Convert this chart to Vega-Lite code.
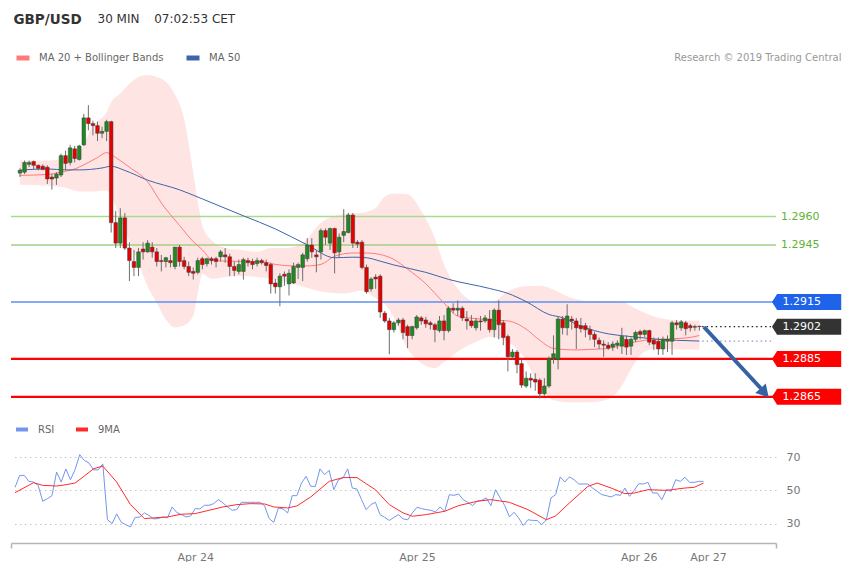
{
"$schema": "https://vega.github.io/schema/vega-lite/v6.json",
"background": "white",
"padding": {"left": 9, "top": 12, "right": 0, "bottom": 0},
"config": {"font": "DejaVu Sans", "view": {"stroke": null}},
"bounds": "flush",
"spacing": 33,
"resolve": {"scale": {"color": "independent"}},
"datasets": {
"candles": [
{"i":0,"o":1.29829,"h":1.29854,"l":1.29808,"c":1.29844},
{"i":1,"o":1.29834,"h":1.29895,"l":1.29824,"c":1.29885},
{"i":2,"o":1.29875,"h":1.29895,"l":1.29860,"c":1.29885},
{"i":3,"o":1.29890,"h":1.29895,"l":1.29849,"c":1.29870},
{"i":4,"o":1.29870,"h":1.29875,"l":1.29844,"c":1.29854},
{"i":5,"o":1.29865,"h":1.29875,"l":1.29844,"c":1.29849},
{"i":6,"o":1.29860,"h":1.29870,"l":1.29772,"c":1.29798},
{"i":7,"o":1.29808,"h":1.29824,"l":1.29742,"c":1.29798},
{"i":8,"o":1.29803,"h":1.29834,"l":1.29767,"c":1.29824},
{"i":9,"o":1.29819,"h":1.29931,"l":1.29808,"c":1.29921},
{"i":10,"o":1.29921,"h":1.29947,"l":1.29844,"c":1.29880},
{"i":11,"o":1.29885,"h":1.29978,"l":1.29870,"c":1.29962},
{"i":12,"o":1.29957,"h":1.29972,"l":1.29885,"c":1.29906},
{"i":13,"o":1.29901,"h":1.29978,"l":1.29895,"c":1.29972},
{"i":14,"o":1.29978,"h":1.30141,"l":1.29972,"c":1.30120},
{"i":15,"o":1.30120,"h":1.30187,"l":1.30054,"c":1.30090},
{"i":16,"o":1.30090,"h":1.30105,"l":1.30028,"c":1.30079},
{"i":17,"o":1.30079,"h":1.30100,"l":1.29998,"c":1.30039},
{"i":18,"o":1.30039,"h":1.30074,"l":1.30013,"c":1.30049},
{"i":19,"o":1.30049,"h":1.30110,"l":1.29998,"c":1.30100},
{"i":20,"o":1.30100,"h":1.30105,"l":1.29516,"c":1.29568},
{"i":21,"o":1.29568,"h":1.29630,"l":1.29434,"c":1.29460},
{"i":22,"o":1.29460,"h":1.29644,"l":1.29434,"c":1.29593},
{"i":23,"o":1.29593,"h":1.29619,"l":1.29424,"c":1.29434},
{"i":24,"o":1.29434,"h":1.29465,"l":1.29260,"c":1.29368},
{"i":25,"o":1.29363,"h":1.29424,"l":1.29286,"c":1.29332},
{"i":26,"o":1.29332,"h":1.29434,"l":1.29286,"c":1.29414},
{"i":27,"o":1.29429,"h":1.29465,"l":1.29373,"c":1.29414},
{"i":28,"o":1.29414,"h":1.29476,"l":1.29409,"c":1.29460},
{"i":29,"o":1.29439,"h":1.29465,"l":1.29383,"c":1.29414},
{"i":30,"o":1.29414,"h":1.29434,"l":1.29337,"c":1.29363},
{"i":31,"o":1.29368,"h":1.29398,"l":1.29311,"c":1.29363},
{"i":32,"o":1.29363,"h":1.29388,"l":1.29332,"c":1.29383},
{"i":33,"o":1.29368,"h":1.29398,"l":1.29332,"c":1.29357},
{"i":34,"o":1.29337,"h":1.29439,"l":1.29322,"c":1.29439},
{"i":35,"o":1.29439,"h":1.29450,"l":1.29337,"c":1.29363},
{"i":36,"o":1.29368,"h":1.29388,"l":1.29322,"c":1.29337},
{"i":37,"o":1.29337,"h":1.29363,"l":1.29286,"c":1.29306},
{"i":38,"o":1.29311,"h":1.29332,"l":1.29268,"c":1.29301},
{"i":39,"o":1.29306,"h":1.29383,"l":1.29296,"c":1.29368},
{"i":40,"o":1.29378,"h":1.29388,"l":1.29322,"c":1.29347},
{"i":41,"o":1.29352,"h":1.29383,"l":1.29337,"c":1.29378},
{"i":42,"o":1.29378,"h":1.29388,"l":1.29347,"c":1.29368},
{"i":43,"o":1.29378,"h":1.29388,"l":1.29332,"c":1.29363},
{"i":44,"o":1.29388,"h":1.29424,"l":1.29363,"c":1.29414},
{"i":45,"o":1.29398,"h":1.29434,"l":1.29357,"c":1.29388},
{"i":46,"o":1.29388,"h":1.29404,"l":1.29286,"c":1.29337},
{"i":47,"o":1.29337,"h":1.29363,"l":1.29286,"c":1.29316},
{"i":48,"o":1.29311,"h":1.29373,"l":1.29296,"c":1.29347},
{"i":49,"o":1.29311,"h":1.29383,"l":1.29268,"c":1.29373},
{"i":50,"o":1.29368,"h":1.29383,"l":1.29337,"c":1.29357},
{"i":51,"o":1.29363,"h":1.29378,"l":1.29322,"c":1.29347},
{"i":52,"o":1.29352,"h":1.29383,"l":1.29337,"c":1.29368},
{"i":53,"o":1.29368,"h":1.29378,"l":1.29347,"c":1.29357},
{"i":54,"o":1.29357,"h":1.29373,"l":1.29311,"c":1.29342},
{"i":55,"o":1.29347,"h":1.29357,"l":1.29194,"c":1.29245},
{"i":56,"o":1.29250,"h":1.29271,"l":1.29194,"c":1.29230},
{"i":57,"o":1.29230,"h":1.29301,"l":1.29127,"c":1.29286},
{"i":58,"o":1.29296,"h":1.29311,"l":1.29235,"c":1.29286},
{"i":59,"o":1.29245,"h":1.29322,"l":1.29184,"c":1.29301},
{"i":60,"o":1.29250,"h":1.29357,"l":1.29245,"c":1.29337},
{"i":61,"o":1.29332,"h":1.29357,"l":1.29271,"c":1.29347},
{"i":62,"o":1.29332,"h":1.29409,"l":1.29260,"c":1.29398},
{"i":63,"o":1.29378,"h":1.29486,"l":1.29363,"c":1.29450},
{"i":64,"o":1.29450,"h":1.29486,"l":1.29383,"c":1.29414},
{"i":65,"o":1.29398,"h":1.29424,"l":1.29306,"c":1.29388},
{"i":66,"o":1.29414,"h":1.29537,"l":1.29373,"c":1.29526},
{"i":67,"o":1.29526,"h":1.29537,"l":1.29450,"c":1.29491},
{"i":68,"o":1.29460,"h":1.29542,"l":1.29424,"c":1.29537},
{"i":69,"o":1.29537,"h":1.29542,"l":1.29301,"c":1.29409},
{"i":70,"o":1.29414,"h":1.29511,"l":1.29383,"c":1.29491},
{"i":71,"o":1.29501,"h":1.29639,"l":1.29465,"c":1.29521},
{"i":72,"o":1.29516,"h":1.29619,"l":1.29511,"c":1.29608},
{"i":73,"o":1.29608,"h":1.29619,"l":1.29434,"c":1.29460},
{"i":74,"o":1.29465,"h":1.29476,"l":1.29434,"c":1.29455},
{"i":75,"o":1.29465,"h":1.29476,"l":1.29322,"c":1.29332},
{"i":76,"o":1.29332,"h":1.29347,"l":1.29194,"c":1.29204},
{"i":77,"o":1.29219,"h":1.29281,"l":1.29204,"c":1.29271},
{"i":78,"o":1.29281,"h":1.29296,"l":1.29219,"c":1.29271},
{"i":79,"o":1.29286,"h":1.29296,"l":1.29066,"c":1.29097},
{"i":80,"o":1.29091,"h":1.29102,"l":1.29040,"c":1.29050},
{"i":81,"o":1.29050,"h":1.29066,"l":1.28874,"c":1.29004},
{"i":82,"o":1.29004,"h":1.29050,"l":1.28989,"c":1.29040},
{"i":83,"o":1.29040,"h":1.29066,"l":1.29025,"c":1.29055},
{"i":84,"o":1.29055,"h":1.29066,"l":1.28953,"c":1.28989},
{"i":85,"o":1.29020,"h":1.29030,"l":1.28907,"c":1.28973},
{"i":86,"o":1.28973,"h":1.29025,"l":1.28953,"c":1.29020},
{"i":87,"o":1.29014,"h":1.29081,"l":1.29004,"c":1.29071},
{"i":88,"o":1.29066,"h":1.29076,"l":1.29030,"c":1.29050},
{"i":89,"o":1.29055,"h":1.29071,"l":1.29014,"c":1.29035},
{"i":90,"o":1.29040,"h":1.29050,"l":1.29004,"c":1.29030},
{"i":91,"o":1.29030,"h":1.29040,"l":1.28938,"c":1.29004},
{"i":92,"o":1.28999,"h":1.29076,"l":1.28989,"c":1.29050},
{"i":93,"o":1.29050,"h":1.29081,"l":1.28948,"c":1.28999},
{"i":94,"o":1.28999,"h":1.29127,"l":1.28989,"c":1.29117},
{"i":95,"o":1.29117,"h":1.29143,"l":1.29091,"c":1.29107},
{"i":96,"o":1.29107,"h":1.29158,"l":1.29076,"c":1.29117},
{"i":97,"o":1.29117,"h":1.29127,"l":1.29050,"c":1.29066},
{"i":98,"o":1.29060,"h":1.29102,"l":1.29004,"c":1.29050},
{"i":99,"o":1.29050,"h":1.29081,"l":1.29014,"c":1.29025},
{"i":100,"o":1.29014,"h":1.29066,"l":1.28999,"c":1.29050},
{"i":101,"o":1.29050,"h":1.29076,"l":1.28999,"c":1.29045},
{"i":102,"o":1.29050,"h":1.29081,"l":1.29040,"c":1.29066},
{"i":103,"o":1.29060,"h":1.29107,"l":1.28989,"c":1.29004},
{"i":104,"o":1.29004,"h":1.29117,"l":1.28963,"c":1.29107},
{"i":105,"o":1.29107,"h":1.29158,"l":1.28953,"c":1.29030},
{"i":106,"o":1.29040,"h":1.29055,"l":1.28922,"c":1.28963},
{"i":107,"o":1.28968,"h":1.28979,"l":1.28784,"c":1.28861},
{"i":108,"o":1.28861,"h":1.28902,"l":1.28851,"c":1.28886},
{"i":109,"o":1.28886,"h":1.28897,"l":1.28774,"c":1.28820},
{"i":110,"o":1.28825,"h":1.28846,"l":1.28697,"c":1.28712},
{"i":111,"o":1.28707,"h":1.28784,"l":1.28697,"c":1.28748},
{"i":112,"o":1.28748,"h":1.28774,"l":1.28697,"c":1.28738},
{"i":113,"o":1.28743,"h":1.28774,"l":1.28682,"c":1.28728},
{"i":114,"o":1.28738,"h":1.28748,"l":1.28641,"c":1.28666},
{"i":115,"o":1.28666,"h":1.28748,"l":1.28656,"c":1.28707},
{"i":116,"o":1.28707,"h":1.28863,"l":1.28697,"c":1.28851},
{"i":117,"o":1.28851,"h":1.28974,"l":1.28825,"c":1.28877},
{"i":118,"o":1.28846,"h":1.29076,"l":1.28795,"c":1.29060},
{"i":119,"o":1.29060,"h":1.29076,"l":1.28979,"c":1.29014},
{"i":120,"o":1.29014,"h":1.29138,"l":1.28974,"c":1.29076},
{"i":121,"o":1.29060,"h":1.29076,"l":1.29004,"c":1.29050},
{"i":122,"o":1.29050,"h":1.29066,"l":1.28902,"c":1.29014},
{"i":123,"o":1.29025,"h":1.29066,"l":1.28989,"c":1.29009},
{"i":124,"o":1.29025,"h":1.29040,"l":1.28963,"c":1.29004},
{"i":125,"o":1.29004,"h":1.29025,"l":1.28948,"c":1.28979},
{"i":126,"o":1.28979,"h":1.28994,"l":1.28912,"c":1.28953},
{"i":127,"o":1.28948,"h":1.28963,"l":1.28902,"c":1.28928},
{"i":128,"o":1.28928,"h":1.28948,"l":1.28861,"c":1.28922},
{"i":129,"o":1.28922,"h":1.28938,"l":1.28897,"c":1.28907},
{"i":130,"o":1.28912,"h":1.28943,"l":1.28892,"c":1.28928},
{"i":131,"o":1.28922,"h":1.28948,"l":1.28902,"c":1.28933},
{"i":132,"o":1.28917,"h":1.29014,"l":1.28876,"c":1.28968},
{"i":133,"o":1.28953,"h":1.28974,"l":1.28871,"c":1.28912},
{"i":134,"o":1.28917,"h":1.28963,"l":1.28871,"c":1.28953},
{"i":135,"o":1.28953,"h":1.28999,"l":1.28938,"c":1.28989},
{"i":136,"o":1.28994,"h":1.29004,"l":1.28953,"c":1.28979},
{"i":137,"o":1.28979,"h":1.29004,"l":1.28963,"c":1.28999},
{"i":138,"o":1.28999,"h":1.29004,"l":1.28922,"c":1.28938},
{"i":139,"o":1.28948,"h":1.28963,"l":1.28897,"c":1.28928},
{"i":140,"o":1.28943,"h":1.28963,"l":1.28871,"c":1.28902},
{"i":141,"o":1.28902,"h":1.28968,"l":1.28871,"c":1.28953},
{"i":142,"o":1.28943,"h":1.28974,"l":1.28886,"c":1.28953},
{"i":143,"o":1.28943,"h":1.29050,"l":1.28871,"c":1.29040},
{"i":144,"o":1.29040,"h":1.29055,"l":1.29004,"c":1.29030},
{"i":145,"o":1.29014,"h":1.29055,"l":1.28999,"c":1.29045},
{"i":146,"o":1.29040,"h":1.29050,"l":1.28974,"c":1.29009},
{"i":147,"o":1.29025,"h":1.29035,"l":1.28994,"c":1.29014},
{"i":148,"o":1.29020,"h":1.29030,"l":1.28999,"c":1.29017},
{"i":149,"o":1.29022,"h":1.29025,"l":1.28999,"c":1.29020}
],
"bands": [
{"i":0,"upper":1.29896,"lower":1.29768},{"i":6,"upper":1.29896,"lower":1.29763},{"i":10,"upper":1.29911,"lower":1.29752},
{"i":13,"upper":1.29942,"lower":1.29732},{"i":16,"upper":1.30080,"lower":1.29732},{"i":19,"upper":1.30151,"lower":1.29737},
{"i":20,"upper":1.30203,"lower":1.29706},{"i":22,"upper":1.30249,"lower":1.29589},{"i":24,"upper":1.30300,"lower":1.29471},
{"i":26,"upper":1.30336,"lower":1.29353},{"i":28,"upper":1.30346,"lower":1.29231},{"i":30,"upper":1.30336,"lower":1.29144},
{"i":32,"upper":1.30310,"lower":1.29057},{"i":34,"upper":1.30243,"lower":1.29016},{"i":36,"upper":1.30116,"lower":1.29026},
{"i":38,"upper":1.29834,"lower":1.29077},{"i":39,"upper":1.29681,"lower":1.29195},{"i":40,"upper":1.29553,"lower":1.29297},
{"i":42,"upper":1.29476,"lower":1.29272},{"i":45,"upper":1.29435,"lower":1.29282},{"i":48,"upper":1.29425,"lower":1.29287},
{"i":52,"upper":1.29415,"lower":1.29282},{"i":55,"upper":1.29435,"lower":1.29272},{"i":58,"upper":1.29435,"lower":1.29256},
{"i":62,"upper":1.29461,"lower":1.29231},{"i":66,"upper":1.29568,"lower":1.29205},{"i":71,"upper":1.29614,"lower":1.29195},
{"i":75,"upper":1.29620,"lower":1.29210},{"i":78,"upper":1.29645,"lower":1.29169},{"i":80,"upper":1.29706,"lower":1.29139},
{"i":82,"upper":1.29722,"lower":1.29067},{"i":85,"upper":1.29717,"lower":1.28903},{"i":88,"upper":1.29630,"lower":1.28827},
{"i":91,"upper":1.29486,"lower":1.28801},{"i":93,"upper":1.29348,"lower":1.28832},{"i":96,"upper":1.29221,"lower":1.28888},
{"i":100,"upper":1.29149,"lower":1.28939},{"i":103,"upper":1.29144,"lower":1.28965},{"i":107,"upper":1.29205,"lower":1.28939},
{"i":110,"upper":1.29231,"lower":1.28873},{"i":114,"upper":1.29236,"lower":1.28709},{"i":117,"upper":1.29216,"lower":1.28632},
{"i":120,"upper":1.29180,"lower":1.28622},{"i":125,"upper":1.29154,"lower":1.28622},{"i":129,"upper":1.29154,"lower":1.28637},
{"i":132,"upper":1.29154,"lower":1.28709},{"i":134,"upper":1.29128,"lower":1.28796},{"i":137,"upper":1.29093,"lower":1.28888},
{"i":140,"upper":1.29067,"lower":1.28903},{"i":146,"upper":1.29052,"lower":1.28898},{"i":149,"upper":1.29052,"lower":1.28898}
],
"ma": [
{"i":0,"s":"MA 20 + Bollinger Bands","v":1.29817},{"i":6,"s":"MA 20 + Bollinger Bands","v":1.29822},{"i":9,"s":"MA 20 + Bollinger Bands","v":1.29834},
{"i":12,"s":"MA 20 + Bollinger Bands","v":1.29851},{"i":15,"s":"MA 20 + Bollinger Bands","v":1.29885},{"i":17,"s":"MA 20 + Bollinger Bands","v":1.29911},
{"i":19,"s":"MA 20 + Bollinger Bands","v":1.29937},{"i":21,"s":"MA 20 + Bollinger Bands","v":1.29911},{"i":24,"s":"MA 20 + Bollinger Bands","v":1.29860},
{"i":28,"s":"MA 20 + Bollinger Bands","v":1.29783},{"i":31,"s":"MA 20 + Bollinger Bands","v":1.29672},{"i":35,"s":"MA 20 + Bollinger Bands","v":1.29553},
{"i":38,"s":"MA 20 + Bollinger Bands","v":1.29468},{"i":40,"s":"MA 20 + Bollinger Bands","v":1.29425},{"i":42,"s":"MA 20 + Bollinger Bands","v":1.29374},
{"i":45,"s":"MA 20 + Bollinger Bands","v":1.29365},{"i":53,"s":"MA 20 + Bollinger Bands","v":1.29362},{"i":56,"s":"MA 20 + Bollinger Bands","v":1.29348},
{"i":60,"s":"MA 20 + Bollinger Bands","v":1.29340},{"i":63,"s":"MA 20 + Bollinger Bands","v":1.29340},{"i":66,"s":"MA 20 + Bollinger Bands","v":1.29348},
{"i":69,"s":"MA 20 + Bollinger Bands","v":1.29391},{"i":73,"s":"MA 20 + Bollinger Bands","v":1.29408},{"i":76,"s":"MA 20 + Bollinger Bands","v":1.29408},
{"i":79,"s":"MA 20 + Bollinger Bands","v":1.29400},{"i":82,"s":"MA 20 + Bollinger Bands","v":1.29374},{"i":85,"s":"MA 20 + Bollinger Bands","v":1.29323},
{"i":89,"s":"MA 20 + Bollinger Bands","v":1.29246},{"i":93,"s":"MA 20 + Bollinger Bands","v":1.29144},{"i":96,"s":"MA 20 + Bollinger Bands","v":1.29076},
{"i":100,"s":"MA 20 + Bollinger Bands","v":1.29062},{"i":103,"s":"MA 20 + Bollinger Bands","v":1.29055},{"i":107,"s":"MA 20 + Bollinger Bands","v":1.29050},
{"i":111,"s":"MA 20 + Bollinger Bands","v":1.29007},{"i":114,"s":"MA 20 + Bollinger Bands","v":1.28948},{"i":117,"s":"MA 20 + Bollinger Bands","v":1.28905},
{"i":122,"s":"MA 20 + Bollinger Bands","v":1.28897},{"i":125,"s":"MA 20 + Bollinger Bands","v":1.28900},{"i":129,"s":"MA 20 + Bollinger Bands","v":1.28905},
{"i":133,"s":"MA 20 + Bollinger Bands","v":1.28930},{"i":137,"s":"MA 20 + Bollinger Bands","v":1.28948},{"i":140,"s":"MA 20 + Bollinger Bands","v":1.28953},
{"i":146,"s":"MA 20 + Bollinger Bands","v":1.28960},{"i":149,"s":"MA 20 + Bollinger Bands","v":1.28973},
{"i":0,"s":"MA 50","v":1.29845},{"i":6,"s":"MA 50","v":1.29851},{"i":10,"s":"MA 50","v":1.29846},{"i":13,"s":"MA 50","v":1.29846},
{"i":18,"s":"MA 50","v":1.29856},{"i":20,"s":"MA 50","v":1.29865},{"i":23,"s":"MA 50","v":1.29843},{"i":28,"s":"MA 50","v":1.29792},
{"i":35,"s":"MA 50","v":1.29741},{"i":40,"s":"MA 50","v":1.29693},{"i":49,"s":"MA 50","v":1.29604},{"i":56,"s":"MA 50","v":1.29535},
{"i":63,"s":"MA 50","v":1.29451},{"i":69,"s":"MA 50","v":1.29383},{"i":73,"s":"MA 50","v":1.29386},{"i":76,"s":"MA 50","v":1.29383},
{"i":79,"s":"MA 50","v":1.29365},{"i":82,"s":"MA 50","v":1.29345},{"i":89,"s":"MA 50","v":1.29306},{"i":94,"s":"MA 50","v":1.29269},
{"i":103,"s":"MA 50","v":1.29221},{"i":107,"s":"MA 50","v":1.29195},{"i":111,"s":"MA 50","v":1.29152},{"i":116,"s":"MA 50","v":1.29084},
{"i":119,"s":"MA 50","v":1.29067},{"i":122,"s":"MA 50","v":1.29033},{"i":126,"s":"MA 50","v":1.28999},{"i":129,"s":"MA 50","v":1.28982},
{"i":133,"s":"MA 50","v":1.28970},{"i":137,"s":"MA 50","v":1.28960},{"i":140,"s":"MA 50","v":1.28953},{"i":144,"s":"MA 50","v":1.28948},
{"i":149,"s":"MA 50","v":1.28944}
],
"levels": [
{"price":1.2960,"kind":"R2"},{"price":1.2945,"kind":"R1"},{"price":1.2915,"kind":"P"},
{"price":1.2902,"kind":"last"},{"price":1.2885,"kind":"S1"},{"price":1.2865,"kind":"S2"}
],
"ext": [{"name":"last","price":1.2902},{"name":"ma50","price":1.28944}],
"arrow": [{"i0":150,"p0":1.29018,"i1":162.5,"p1":1.28694,"ih":163.0,"ph":1.28679}],
"rsi": [
{"i":0,"s":"RSI","v":51.8},{"i":1,"s":"RSI","v":59},{"i":2,"s":"RSI","v":59},{"i":3,"s":"RSI","v":55.4},{"i":4,"s":"RSI","v":55},
{"i":5,"s":"RSI","v":53},{"i":6,"s":"RSI","v":43.4},{"i":7,"s":"RSI","v":45},{"i":8,"s":"RSI","v":46.8},{"i":9,"s":"RSI","v":61},
{"i":10,"s":"RSI","v":55},{"i":11,"s":"RSI","v":62.9},{"i":12,"s":"RSI","v":56.4},{"i":13,"s":"RSI","v":62.5},{"i":14,"s":"RSI","v":71.5},
{"i":15,"s":"RSI","v":68},{"i":16,"s":"RSI","v":66.5},{"i":17,"s":"RSI","v":62.3},{"i":18,"s":"RSI","v":62.3},{"i":19,"s":"RSI","v":65.9},
{"i":20,"s":"RSI","v":32.4},{"i":21,"s":"RSI","v":30},{"i":22,"s":"RSI","v":35.8},{"i":23,"s":"RSI","v":30.7},{"i":24,"s":"RSI","v":29.3},
{"i":25,"s":"RSI","v":28},{"i":26,"s":"RSI","v":33.7},{"i":27,"s":"RSI","v":33.9},{"i":28,"s":"RSI","v":36.4},{"i":29,"s":"RSI","v":34.9},
{"i":30,"s":"RSI","v":32.8},{"i":31,"s":"RSI","v":33},{"i":32,"s":"RSI","v":34},{"i":33,"s":"RSI","v":33.4},{"i":34,"s":"RSI","v":40},
{"i":35,"s":"RSI","v":36.7},{"i":36,"s":"RSI","v":35.4},{"i":37,"s":"RSI","v":34},{"i":38,"s":"RSI","v":34.6},{"i":39,"s":"RSI","v":39},
{"i":40,"s":"RSI","v":38.8},{"i":41,"s":"RSI","v":41},{"i":42,"s":"RSI","v":41},{"i":43,"s":"RSI","v":42},{"i":44,"s":"RSI","v":44.4},
{"i":45,"s":"RSI","v":42.4},{"i":46,"s":"RSI","v":40},{"i":47,"s":"RSI","v":38},{"i":48,"s":"RSI","v":38.4},{"i":49,"s":"RSI","v":42.8},
{"i":50,"s":"RSI","v":42.8},{"i":51,"s":"RSI","v":42.8},{"i":52,"s":"RSI","v":42.8},{"i":53,"s":"RSI","v":42.8},{"i":54,"s":"RSI","v":40.8},
{"i":55,"s":"RSI","v":33},{"i":56,"s":"RSI","v":30.7},{"i":57,"s":"RSI","v":39.4},{"i":58,"s":"RSI","v":38.8},{"i":59,"s":"RSI","v":36.4},
{"i":60,"s":"RSI","v":46.8},{"i":61,"s":"RSI","v":46.8},{"i":62,"s":"RSI","v":54.4},{"i":63,"s":"RSI","v":58.4},{"i":64,"s":"RSI","v":52.4},
{"i":65,"s":"RSI","v":52.4},{"i":66,"s":"RSI","v":62.9},{"i":67,"s":"RSI","v":59.5},{"i":68,"s":"RSI","v":62},{"i":69,"s":"RSI","v":50.4},
{"i":70,"s":"RSI","v":56.4},{"i":71,"s":"RSI","v":57.5},{"i":72,"s":"RSI","v":62.9},{"i":73,"s":"RSI","v":51.4},{"i":74,"s":"RSI","v":50.8},
{"i":75,"s":"RSI","v":44.4},{"i":76,"s":"RSI","v":38.4},{"i":77,"s":"RSI","v":41.4},{"i":78,"s":"RSI","v":42.8},{"i":79,"s":"RSI","v":35.4},
{"i":80,"s":"RSI","v":33.7},{"i":81,"s":"RSI","v":31.9},{"i":82,"s":"RSI","v":33.7},{"i":83,"s":"RSI","v":35.4},{"i":84,"s":"RSI","v":32.8},
{"i":85,"s":"RSI","v":32.3},{"i":86,"s":"RSI","v":36.4},{"i":87,"s":"RSI","v":39.8},{"i":88,"s":"RSI","v":39},{"i":89,"s":"RSI","v":38.4},
{"i":90,"s":"RSI","v":38},{"i":91,"s":"RSI","v":37},{"i":92,"s":"RSI","v":40},{"i":93,"s":"RSI","v":37.4},{"i":94,"s":"RSI","v":47.4},
{"i":95,"s":"RSI","v":47},{"i":96,"s":"RSI","v":47.8},{"i":97,"s":"RSI","v":44.4},{"i":98,"s":"RSI","v":42.8},{"i":99,"s":"RSI","v":40.8},
{"i":100,"s":"RSI","v":43.4},{"i":101,"s":"RSI","v":44},{"i":102,"s":"RSI","v":45.4},{"i":103,"s":"RSI","v":40.8},{"i":104,"s":"RSI","v":50.4},
{"i":105,"s":"RSI","v":45.4},{"i":106,"s":"RSI","v":40.8},{"i":107,"s":"RSI","v":34},{"i":108,"s":"RSI","v":36.8},{"i":109,"s":"RSI","v":33.4},
{"i":110,"s":"RSI","v":28.8},{"i":111,"s":"RSI","v":32.3},{"i":112,"s":"RSI","v":31.9},{"i":113,"s":"RSI","v":31.9},{"i":114,"s":"RSI","v":29.3},
{"i":115,"s":"RSI","v":32.3},{"i":116,"s":"RSI","v":45.4},{"i":117,"s":"RSI","v":47.4},{"i":118,"s":"RSI","v":58.1},{"i":119,"s":"RSI","v":55},
{"i":120,"s":"RSI","v":58.1},{"i":121,"s":"RSI","v":56.4},{"i":122,"s":"RSI","v":53.8},{"i":123,"s":"RSI","v":53.8},{"i":124,"s":"RSI","v":53.8},
{"i":125,"s":"RSI","v":51.4},{"i":126,"s":"RSI","v":49.4},{"i":127,"s":"RSI","v":47.4},{"i":128,"s":"RSI","v":46.8},{"i":129,"s":"RSI","v":46},
{"i":130,"s":"RSI","v":47.4},{"i":131,"s":"RSI","v":47},{"i":132,"s":"RSI","v":51.4},{"i":133,"s":"RSI","v":46.4},{"i":134,"s":"RSI","v":50},
{"i":135,"s":"RSI","v":54},{"i":136,"s":"RSI","v":53.8},{"i":137,"s":"RSI","v":54.8},{"i":138,"s":"RSI","v":48.4},{"i":139,"s":"RSI","v":48.4},
{"i":140,"s":"RSI","v":44.4},{"i":141,"s":"RSI","v":50.4},{"i":142,"s":"RSI","v":49.4},{"i":143,"s":"RSI","v":56.4},{"i":144,"s":"RSI","v":55.4},
{"i":145,"s":"RSI","v":57.9},{"i":146,"s":"RSI","v":54.8},{"i":147,"s":"RSI","v":54.8},{"i":148,"s":"RSI","v":55.4},{"i":149,"s":"RSI","v":55.4},
{"i":0,"s":"9MA","v":48.6},{"i":4,"s":"9MA","v":54.6},{"i":6,"s":"9MA","v":53},{"i":9,"s":"9MA","v":52.6},{"i":11,"s":"9MA","v":53.4},
{"i":13,"s":"9MA","v":54.4},{"i":15,"s":"9MA","v":58.6},{"i":17,"s":"9MA","v":63},{"i":19,"s":"9MA","v":64.6},{"i":22,"s":"9MA","v":55},
{"i":25,"s":"9MA","v":41.4},{"i":28,"s":"9MA","v":33},{"i":33,"s":"9MA","v":34},{"i":36,"s":"9MA","v":35.6},{"i":39,"s":"9MA","v":36},
{"i":42,"s":"9MA","v":38},{"i":45,"s":"9MA","v":40},{"i":48,"s":"9MA","v":41.4},{"i":51,"s":"9MA","v":42},{"i":54,"s":"9MA","v":41.8},
{"i":56,"s":"9MA","v":40},{"i":59,"s":"9MA","v":39.4},{"i":61,"s":"9MA","v":40.6},{"i":64,"s":"9MA","v":46},{"i":68,"s":"9MA","v":55.4},
{"i":71,"s":"9MA","v":57.7},{"i":74,"s":"9MA","v":57.7},{"i":76,"s":"9MA","v":54},{"i":78,"s":"9MA","v":50.4},{"i":81,"s":"9MA","v":41.4},
{"i":84,"s":"9MA","v":36.4},{"i":86,"s":"9MA","v":34.4},{"i":89,"s":"9MA","v":35.4},{"i":93,"s":"9MA","v":37.4},{"i":96,"s":"9MA","v":40.8},
{"i":100,"s":"9MA","v":43.4},{"i":103,"s":"9MA","v":44.4},{"i":107,"s":"9MA","v":42.8},{"i":111,"s":"9MA","v":38.4},{"i":115,"s":"9MA","v":32.3},
{"i":117,"s":"9MA","v":34.6},{"i":120,"s":"9MA","v":42.4},{"i":124,"s":"9MA","v":52.4},{"i":126,"s":"9MA","v":54.4},{"i":129,"s":"9MA","v":51.4},
{"i":132,"s":"9MA","v":48},{"i":134,"s":"9MA","v":48.4},{"i":137,"s":"9MA","v":50.4},{"i":141,"s":"9MA","v":50},{"i":145,"s":"9MA","v":51.4},
{"i":147,"s":"9MA","v":51.8},{"i":149,"s":"9MA","v":54.4}
]
},
"vconcat": [
{
"width": 765,
"height": 340,
"layer": [
{
"data": {"name": "bands"},
"mark": {"type": "area", "interpolate": "monotone", "color": "#ff0000", "opacity": 0.105},
"encoding": {
"x": {"field": "i", "type": "quantitative", "scale": {"domain": [-0.87, 164.7], "nice": false, "zero": false},
"axis": {"orient": "top", "labels": false, "ticks": false, "domain": false, "grid": false,
"title": "Research © 2019 Trading Central", "titleX": 830, "titleY": -13, "titleAlign": "right", "titleAnchor": "start",
"titleBaseline": "middle", "titleFontSize": 10, "titleFontWeight": "normal", "titleColor": "#999999", "titleFont": "DejaVu Sans"}},
"y": {"field": "upper", "type": "quantitative", "scale": {"domain": [1.28607, 1.30346], "nice": false, "zero": false},
"axis": {"orient": "left", "labels": false, "ticks": false, "domain": false, "grid": false,
"title": "GBP/USD", "titleAngle": 0, "titleX": 2, "titleY": -51, "titleAlign": "left", "titleAnchor": "start",
"titleBaseline": "middle", "titleFontSize": 13.5, "titleFontWeight": "bold", "titleColor": "#333333", "titleFont": "DejaVu Sans"}},
"y2": {"field": "lower"}
}
},
{
"data": {"name": "levels"},
"transform": [{"filter": "datum.kind != 'last'"}],
"mark": {"type": "rule"},
"encoding": {
"y": {"field": "price", "type": "quantitative"},
"color": {"condition": [{"test": "datum.kind == 'R2'", "value": "#a9da8d"}, {"test": "datum.kind == 'R1'", "value": "#a3cf85"}, {"test": "datum.kind == 'P'", "value": "#5b8ff2"}], "value": "#ff0000"},
"strokeWidth": {"condition": {"test": "datum.kind == 'S1' || datum.kind == 'S2'", "value": 2.2}, "value": 1.5}
}
},
{
"data": {"name": "ext"},
"mark": {"type": "rule", "strokeDash": [1.5, 3], "strokeWidth": 1.2},
"encoding": {
"x": {"datum": 149.6, "type": "quantitative"},
"x2": {"datum": 164.7},
"y": {"field": "price", "type": "quantitative"},
"color": {"condition": {"test": "datum.name == 'last'", "value": "#222222"}, "value": "#8c9cc8"}
}
},
{
"data": {"name": "ma"},
"mark": {"type": "line", "interpolate": "monotone", "strokeWidth": 1},
"encoding": {
"x": {"field": "i", "type": "quantitative"},
"y": {"field": "v", "type": "quantitative"},
"color": {"field": "s", "type": "nominal",
"scale": {"domain": ["MA 20 + Bollinger Bands", "MA 50"], "range": ["#ff7b7b", "#3e64a9"]},
"legend": {"orient": "none", "legendX": 3, "legendY": -21, "direction": "horizontal", "title": null,
"symbolType": "stroke", "symbolSize": 169, "symbolStrokeWidth": 5, "labelFontSize": 10, "labelColor": "#666666",
"labelFont": "DejaVu Sans", "labelOffset": 7, "columnPadding": 12, "padding": 0,
"encode": {"symbols": {"update": {"strokeWidth": {"value": 5}}}}}}
}
},
{
"data": {"name": "candles"},
"mark": {"type": "rule", "color": "#6e6e6e", "strokeWidth": 1},
"encoding": {
"x": {"field": "i", "type": "quantitative"},
"y": {"field": "l", "type": "quantitative"},
"y2": {"field": "h"}
}
},
{
"data": {"name": "candles"},
"mark": {"type": "bar", "width": 3.6, "stroke": "#3a3a3a", "strokeWidth": 0.5},
"encoding": {
"x": {"field": "i", "type": "quantitative"},
"y": {"field": "o", "type": "quantitative"},
"y2": {"field": "c"},
"fill": {"condition": {"test": "datum.c >= datum.o", "value": "#1f8a1f"}, "value": "#e60000"}
}
},
{
"data": {"name": "arrow"},
"mark": {"type": "rule", "color": "#3562a3", "strokeWidth": 4},
"encoding": {
"x": {"field": "i0", "type": "quantitative"},
"y": {"field": "p0", "type": "quantitative"},
"x2": {"field": "i1"},
"y2": {"field": "p1"}
}
},
{
"data": {"name": "arrow"},
"mark": {"type": "point", "shape": "triangle", "angle": 138, "size": 200, "filled": true, "opacity": 1, "color": "#3562a3"},
"encoding": {
"x": {"field": "ih", "type": "quantitative"},
"y": {"field": "ph", "type": "quantitative"}
}
},
{
"data": {"name": "levels"},
"transform": [{"filter": "datum.kind != 'R1' && datum.kind != 'R2'"}],
"mark": {"type": "bar", "orient": "horizontal", "height": 16},
"encoding": {
"x": {"datum": 166.0, "type": "quantitative"},
"x2": {"datum": 180.1},
"y": {"field": "price", "type": "quantitative"},
"color": {"condition": [{"test": "datum.kind == 'P'", "value": "#1e63ea"}, {"test": "datum.kind == 'last'", "value": "#333333"}], "value": "#ff0000"}
}
},
{
"data": {"name": "levels"},
"transform": [{"filter": "datum.kind != 'R1' && datum.kind != 'R2'"}],
"mark": {"type": "point", "shape": "M0,-1L0,1L-0.65,0Z", "size": 256, "filled": true, "opacity": 1, "strokeWidth": 0},
"encoding": {
"x": {"datum": 166.05, "type": "quantitative"},
"y": {"field": "price", "type": "quantitative"},
"color": {"condition": [{"test": "datum.kind == 'P'", "value": "#1e63ea"}, {"test": "datum.kind == 'last'", "value": "#333333"}], "value": "#ff0000"}
}
},
{
"data": {"name": "levels"},
"transform": [{"filter": "datum.kind != 'R1' && datum.kind != 'R2'"}],
"mark": {"type": "text", "align": "left", "baseline": "middle", "color": "white", "fontSize": 11, "font": "DejaVu Sans"},
"encoding": {
"x": {"datum": 167.2, "type": "quantitative"},
"y": {"field": "price", "type": "quantitative"},
"text": {"field": "price", "type": "quantitative", "format": ".4f"}
}
},
{
"data": {"name": "levels"},
"transform": [{"filter": "datum.kind == 'R1' || datum.kind == 'R2'"}],
"mark": {"type": "text", "align": "left", "baseline": "middle", "color": "#5fb236", "fontSize": 11, "font": "DejaVu Sans"},
"encoding": {
"x": {"datum": 166.9, "type": "quantitative"},
"y": {"field": "price", "type": "quantitative"},
"text": {"field": "price", "type": "quantitative", "format": ".4f"}
}
}
]
},
{
"width": 765,
"height": 100,
"layer": [
{
"data": {"name": "rsi"},
"mark": {"type": "line", "strokeWidth": 1},
"encoding": {
"x": {"field": "i", "type": "quantitative", "scale": {"domain": [-0.87, 164.7], "nice": false, "zero": false},
"axis": {"orient": "bottom", "values": [-0.87, 39, 87, 135, 150, 164.7],
"labelExpr": "datum.value == 39 ? 'Apr 24' : datum.value == 87 ? 'Apr 25' : datum.value == 135 ? 'Apr 26' : datum.value == 150 ? 'Apr 27' : ''",
"grid": false, "domainColor": "#b5b5b5", "domainWidth": 1.5, "tickSize": 5, "tickWidth": 1.5,
"tickColor": {"condition": {"test": "datum.value < 0 || datum.value > 160", "value": "#b5b5b5"}, "value": "rgba(0,0,0,0)"},
"labelFontSize": 11, "labelColor": "#777777", "labelPadding": 3, "labelFlush": false, "labelOverlap": false, "labelFont": "DejaVu Sans",
"title": "30 MIN", "titleX": 86, "titleY": -524.3, "titleAlign": "left", "titleAnchor": "start", "titleBaseline": "middle",
"titleFontSize": 12, "titleFontWeight": "normal", "titleColor": "#333333", "titleFont": "DejaVu Sans"}},
"y": {"field": "v", "type": "quantitative", "scale": {"domain": [18.3, 78.5], "nice": false, "zero": false},
"axis": {"orient": "right", "values": [30, 50, 70], "grid": true, "gridDash": [1.5, 3.5], "gridColor": "#c4c4c4",
"domain": false, "ticks": false, "labelPadding": 10, "labelFontSize": 11, "labelColor": "#777777", "labelFont": "DejaVu Sans",
"title": "07:02:53 CET", "titleAngle": 0, "titleX": -622.3, "titleY": -424.3, "titleAlign": "left", "titleAnchor": "start",
"titleBaseline": "middle", "titleFontSize": 12, "titleFontWeight": "normal", "titleColor": "#333333", "titleFont": "DejaVu Sans"}},
"color": {"field": "s", "type": "nominal",
"scale": {"domain": ["RSI", "9MA"], "range": ["#7395ee", "#ff2b2b"]},
"legend": {"orient": "none", "legendX": 3, "legendY": -21.5, "direction": "horizontal", "title": null,
"symbolType": "stroke", "symbolSize": 144, "symbolStrokeWidth": 4, "labelFontSize": 10, "labelColor": "#666666",
"labelFont": "DejaVu Sans", "labelOffset": 8, "columnPadding": 13, "padding": 0,
"encode": {"symbols": {"update": {"strokeWidth": {"value": 4}}}}}}
}
},
{
"mark": {"type": "rule", "strokeDash": [1.5, 3], "strokeWidth": 1.2, "color": "#6f90ec"},
"encoding": {
"x": {"datum": 149.2, "type": "quantitative"},
"x2": {"datum": 164.7},
"y": {"datum": 55.4, "type": "quantitative"}
}
}
]
}
]
}
